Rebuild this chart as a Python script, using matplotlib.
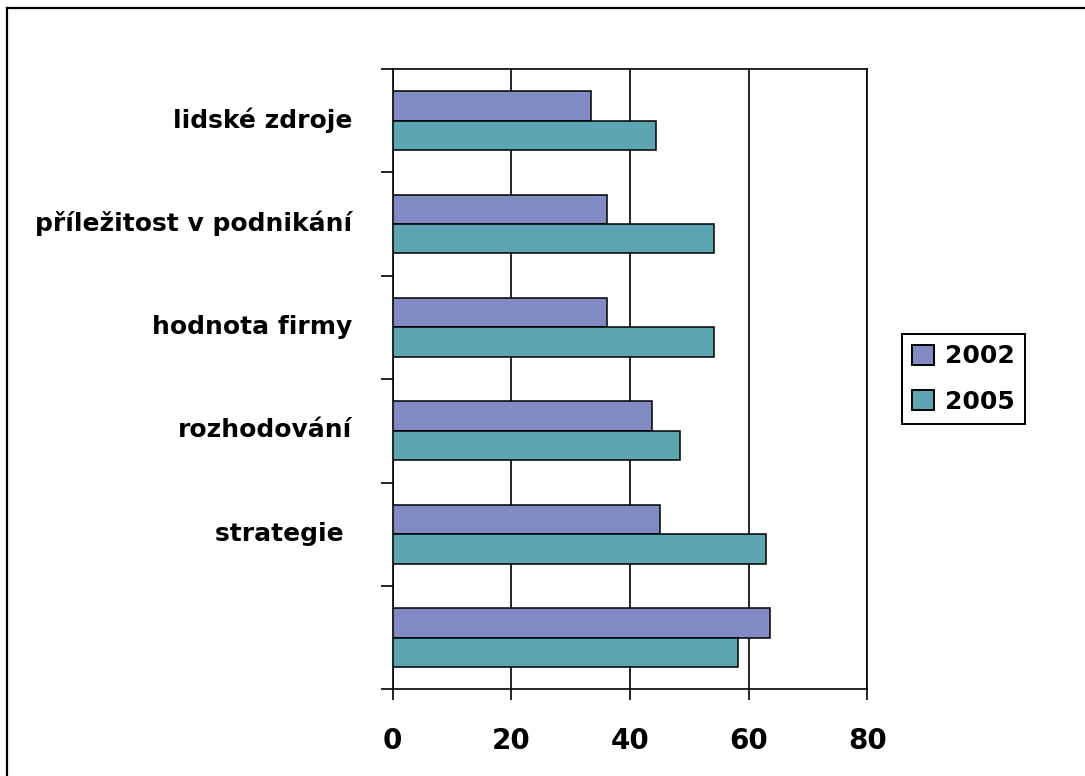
import numpy as np
import matplotlib.pyplot as plt
import matplotlib.transforms as mtransforms
from matplotlib.lines import Line2D

# kategorie odspodu nahoru (spodni skupina nema popisek)
kategorie = ['', 'strategie ', 'rozhodování', 'hodnota firmy',
             'příležitost v podnikání', 'lidské zdroje']
hodnoty_2002 = [63.6, 45.1, 43.8, 36.2, 36.2, 33.5]
hodnoty_2005 = [58.2, 63.0, 48.5, 54.2, 54.2, 44.4]
roky = ['2002', '2005']
xticks = [0, 20, 40, 60, 80]

barva_2002 = '#818AC2'
barva_2005 = '#5DA5B0'

plt.rcParams['font.family'] = ['DejaVu Sans']

fig = plt.figure(figsize=(10.85, 7.76), dpi=100)
ax = fig.add_axes([0.3619, 0.1117, 0.4374, 0.7994])

y = np.arange(len(kategorie))
h = 0.284
ax.barh(y + h / 2, hodnoty_2002, height=h, color=barva_2002,
        edgecolor='black', linewidth=1.1, label=roky[0], zorder=3)
ax.barh(y - h / 2, hodnoty_2005, height=h, color=barva_2005,
        edgecolor='black', linewidth=1.1, label=roky[1], zorder=3)

ax.set_xlim(0, 80)
ax.set_ylim(-0.5, len(kategorie) - 0.5)

ax.set_xticks(xticks)
ax.set_xticklabels([str(t) for t in xticks], fontsize=20, fontweight='bold')
ax.tick_params(axis='x', direction='out', length=8, width=1.2, pad=19)
ax.xaxis.grid(True, color='black', linewidth=1.2, zorder=0)

ax.set_yticks(y)
ax.set_yticklabels(kategorie, fontsize=18, fontweight='bold')
ax.set_yticks(np.arange(-0.5, len(kategorie)), minor=True)
ax.tick_params(axis='y', which='major', length=0, pad=29)
ax.tick_params(axis='y', which='minor', direction='out', length=8.6, width=1.2)

# popisky kategorii o kousek vys
posun = mtransforms.ScaledTranslation(0, 3 / 100, fig.dpi_scale_trans)
for lbl in ax.get_yticklabels():
    lbl.set_transform(lbl.get_transform() + posun)

for s in ax.spines.values():
    s.set_linewidth(1.2)
    s.set_color('black')

leg = ax.legend(loc='upper left', bbox_to_anchor=(0.8313, 0.5696),
                bbox_transform=fig.transFigure, borderaxespad=0,
                prop={'weight': 'bold', 'size': 18},
                handlelength=0.85, handleheight=0.85, handletextpad=0.45,
                labelspacing=0.85, borderpad=0.42, fancybox=False,
                framealpha=1, edgecolor='black')
leg.get_frame().set_linewidth(1.4)
for p in leg.get_patches():
    p.set_linewidth(1.4)

# ramecek kolem grafu (jen nahore a vlevo, zbytek je oriznuty)
fig.add_artist(Line2D([7 / 1085, 1.0], [1 - 8 / 776, 1 - 8 / 776],
                      color='black', linewidth=1.6))
fig.add_artist(Line2D([7 / 1085, 7 / 1085], [0.0, 1 - 8 / 776],
                      color='black', linewidth=1.6))

fig.savefig('out.png', dpi=100)
